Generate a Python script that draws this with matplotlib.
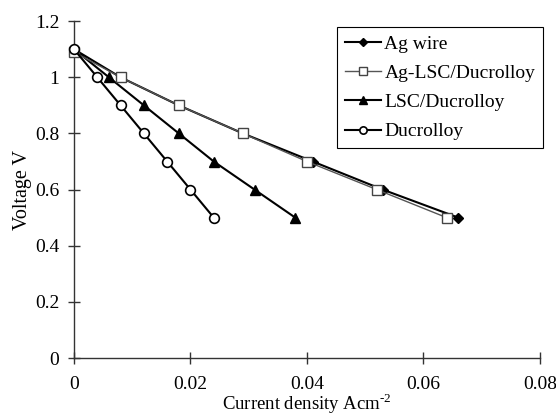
import matplotlib
matplotlib.use("Agg")
import matplotlib.pyplot as plt

voltage = [1.1, 1.0, 0.9, 0.8, 0.7, 0.6, 0.5]
ag_wire = [0.0, 0.008, 0.018, 0.029, 0.041, 0.053, 0.066]
ag_lsc = [0.0, 0.008, 0.018, 0.029, 0.040, 0.052, 0.064]
ag_lsc_v = [1.09, 1.0, 0.9, 0.8, 0.7, 0.6, 0.5]
lsc = [0.0, 0.006, 0.012, 0.018, 0.024, 0.031, 0.038]
ducrolloy = [0.0, 0.004, 0.008, 0.012, 0.016, 0.020, 0.024]

xticks = [0, 0.02, 0.04, 0.06, 0.08]
xtick_labels = ["0", "0.02", "0.04", "0.06", "0.08"]
yticks = [0, 0.2, 0.4, 0.6, 0.8, 1.0, 1.2]
ytick_labels = ["0", "0.2", "0.4", "0.6", "0.8", "1", "1.2"]

plt.rcParams['font.family'] = ['Liberation Serif', 'DejaVu Serif']
plt.rcParams['mathtext.fontset'] = 'custom'
plt.rcParams['mathtext.rm'] = 'Liberation Serif'

fig = plt.figure(figsize=(5.56, 4.2), dpi=100)
ax = fig.add_axes([0.1331, 0.1476, 0.838, 0.802])

ax.plot(ag_wire, voltage, color='black', lw=1.5, marker='D', ms=5.5,
        mfc='black', mec='black', label='Ag wire', clip_on=False, zorder=3)
ax.plot(ag_lsc, ag_lsc_v, color='#555555', lw=1.0, marker='s', ms=7,
        mfc='white', mec='#444444', mew=1.0, label='Ag-LSC/Ducrolloy', clip_on=False, zorder=4)
ax.plot(lsc, voltage, color='black', lw=1.5, marker='^', ms=7.5,
        mfc='black', mec='black', label='LSC/Ducrolloy', clip_on=False, zorder=3)
ax.plot(ducrolloy, voltage, color='black', lw=1.5, marker='o', ms=7,
        mfc='white', mec='black', mew=1.2, label='Ducrolloy', clip_on=False, zorder=5)

ax.set_xlim(0, 0.08)
ax.set_ylim(0, 1.2)
ax.set_xticks(xticks)
ax.set_xticklabels(xtick_labels)
ax.set_yticks(yticks)
ax.set_yticklabels(ytick_labels)

for s in ['top', 'right']:
    ax.spines[s].set_visible(False)
for s in ['left', 'bottom']:
    ax.spines[s].set_linewidth(1.0)
    ax.spines[s].set_color('#333333')

ax.tick_params(axis='x', direction='inout', length=8, width=1.0, color='#333333',
               labelsize=14, pad=9)
ax.tick_params(axis='y', direction='inout', length=9, width=1.0, color='#333333',
               labelsize=14, pad=6)

ax.set_xlabel('Current density Acm$^{\\mathrm{\u2010}2}$', fontsize=13.5, labelpad=-1)
ax.set_ylabel('Voltage V', fontsize=14.5, labelpad=2)

leg = ax.legend(loc='upper left', bbox_to_anchor=(0.564, 0.982), fontsize=14,
                frameon=True, fancybox=False, edgecolor='black', framealpha=1,
                handlelength=1.85, markerscale=0.75, borderpad=0.4,
                labelspacing=0.6, handletextpad=0.2, borderaxespad=0)
leg.get_frame().set_linewidth(0.8)

fig.savefig('out.png', dpi=100)
